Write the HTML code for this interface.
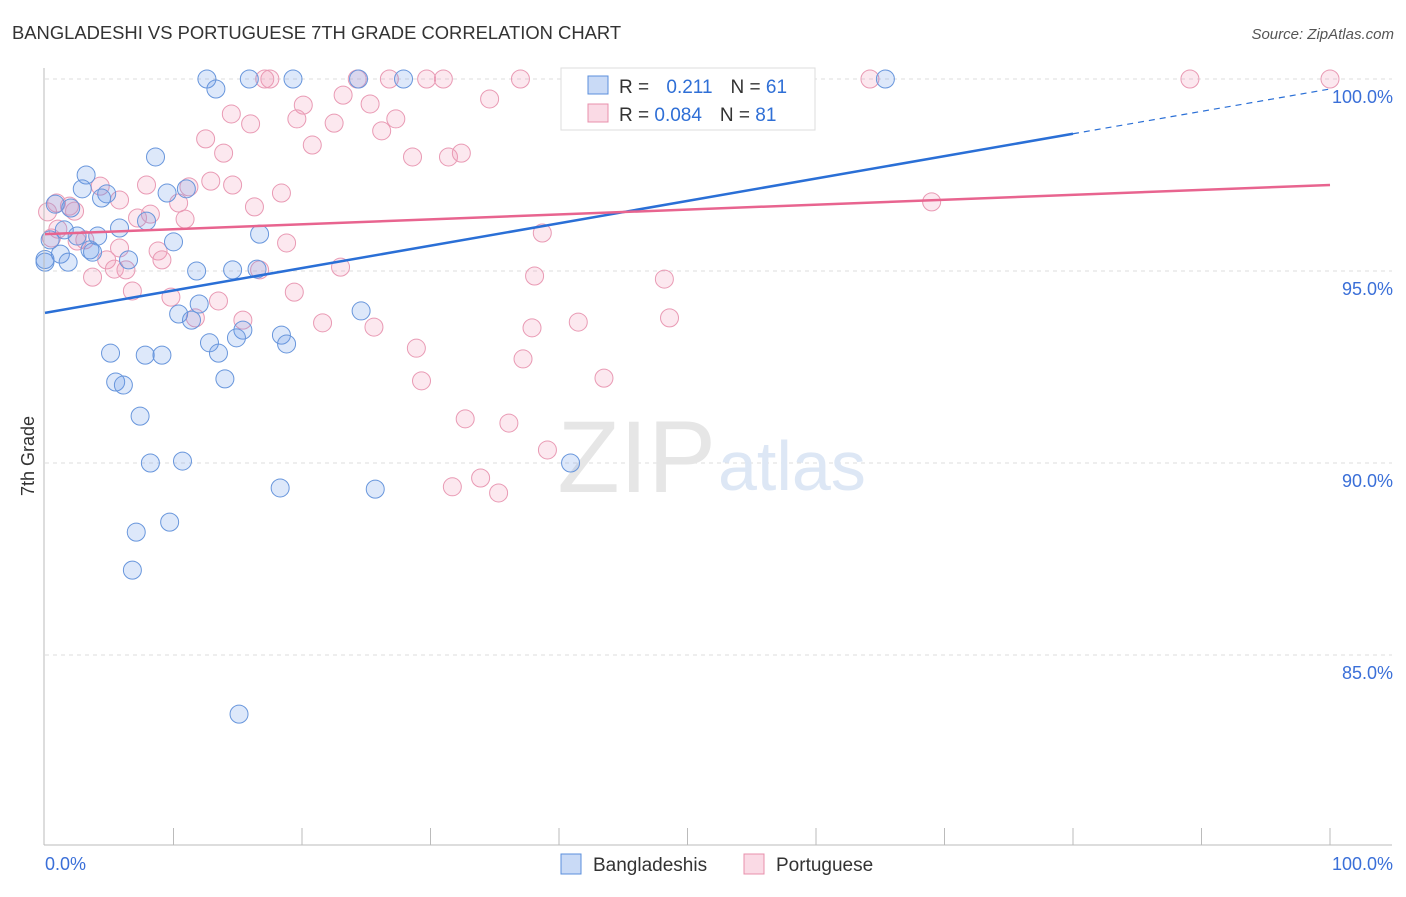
<!DOCTYPE html>
<html><head><meta charset="utf-8"><style>
body{margin:0;background:#fff;font-family:"Liberation Sans",sans-serif}
svg text{font-family:"Liberation Sans",sans-serif}
</style></head><body>
<svg id="c" width="1406" height="892">
<text x="12" y="39" font-size="18.4" fill="#333">BANGLADESHI VS PORTUGUESE 7TH GRADE CORRELATION CHART</text>
<text x="1394" y="39" font-size="15" fill="#555" font-style="italic" text-anchor="end">Source: ZipAtlas.com</text>
<text x="34" y="456" font-size="18" fill="#333" transform="rotate(-90 34 456)" text-anchor="middle">7th Grade</text>
<g id="grid"></g>
<text x="716" y="492" font-size="102" fill="#e6e6e6" text-anchor="end" font-family="Liberation Serif">ZIP</text>
<text x="718" y="490" font-size="70" fill="#dde7f5">atlas</text>
<g id="pts"></g>
<g id="trend"></g>
<line x1="44" y1="68" x2="44" y2="845" stroke="#bbb"/>
<line x1="44" y1="845" x2="1392" y2="845" stroke="#bbb"/>
<g id="xt"></g>
<text x="45" y="870" font-size="18" fill="#3a6fd8">0.0%</text>
<text x="1393" y="870" font-size="18" fill="#3a6fd8" text-anchor="end">100.0%</text>
<g>
<rect x="561" y="68" width="254" height="62" fill="#fff" stroke="#ddd"/>
<rect x="588" y="76" width="20" height="18" fill="rgba(100,150,230,0.35)" stroke="#5b8fdc"/>
<rect x="588" y="104" width="20" height="18" fill="rgba(240,150,180,0.35)" stroke="#e890ac"/>
<text x="619" y="93" font-size="19" fill="#333">R = <tspan fill="#2f6fd6" dx="12">0.211</tspan><tspan dx="18" fill="#333">N = </tspan><tspan fill="#2f6fd6">61</tspan></text>
<text x="619" y="121" font-size="19" fill="#333">R = <tspan fill="#2f6fd6">0.084</tspan><tspan dx="18" fill="#333">N = </tspan><tspan fill="#2f6fd6">81</tspan></text>
</g>
<g>
<rect x="561" y="854" width="20" height="20" fill="rgba(100,150,230,0.35)" stroke="#5b8fdc"/>
<text x="593" y="871" font-size="19" fill="#333">Bangladeshis</text>
<rect x="744" y="854" width="20" height="20" fill="rgba(240,150,180,0.35)" stroke="#e890ac"/>
<text x="776" y="871" font-size="19" fill="#333">Portuguese</text>
</g>
</svg>
<script>
const yTicks=[100,95,90,85];
const yTickLabels=["100.0%","95.0%","90.0%","85.0%"];
const xTicks=[10,20,30,40,50,60,70,80,90,100];
const blueX=[12.6,15.9,19.3,27.9,24.4,53.3,65.4,13.3,8.6,3.2,2.9,4.8,4.4,9.5,11.0,0.8,2.0,5.8,7.9,1.5,4.1,2.5,0.4,10.0,16.7,3.5,1.2,3.7,6.5,1.8,0.0,11.8,14.6,16.5,24.6,12.0,10.4,11.4,15.4,14.9,18.4,18.8,12.8,13.5,5.1,7.8,9.1,5.5,6.1,14.0,7.4,8.2,10.7,18.3,25.7,40.9,7.1,9.7,6.8,15.1,0.0];
const blueY=[100,100,100,100,100,100,100,99.74,97.97,97.5,97.14,97.01,96.9,97.03,97.14,96.74,96.64,96.12,96.3,96.07,95.91,95.91,95.81,95.76,95.96,95.55,95.44,95.49,95.29,95.23,95.23,95.0,95.03,95.05,93.96,94.14,93.88,93.72,93.46,93.26,93.33,93.1,93.13,92.86,92.86,92.81,92.81,92.11,92.03,92.19,91.22,90.0,90.05,89.35,89.32,90.0,88.2,88.46,87.21,83.46,95.3];
const pinkX=[17.5,17.1,24.3,26.8,29.7,31.0,37.0,64.2,89.1,100,20.1,34.6,23.2,25.3,14.5,19.6,27.3,26.2,22.5,16.0,12.5,20.8,13.9,28.6,31.4,32.4,4.3,7.9,12.9,14.6,11.2,18.4,16.3,10.4,0.9,1.9,69.0,8.2,7.2,10.9,1.0,2.5,38.7,18.8,8.8,5.8,9.1,4.8,6.3,16.7,5.4,3.7,23.0,38.1,48.2,6.8,19.4,9.8,13.5,48.6,15.4,21.6,25.6,37.9,41.5,11.7,28.9,37.2,29.3,43.5,32.7,36.1,39.1,33.9,31.7,35.3,0.5,3.1,0.2,5.8,2.3];
const pinkY=[100,100,100,100,100,100,100,100,100,100,99.32,99.48,99.58,99.35,99.09,98.96,98.96,98.65,98.85,98.83,98.44,98.28,98.07,97.97,97.97,98.07,97.21,97.24,97.34,97.24,97.19,97.03,96.67,96.77,96.77,96.69,96.8,96.48,96.38,96.35,96.09,95.78,95.99,95.73,95.52,95.6,95.29,95.29,95.03,95.03,95.05,94.84,95.1,94.87,94.79,94.48,94.45,94.32,94.22,93.78,93.72,93.65,93.54,93.52,93.67,93.78,92.99,92.71,92.14,92.21,91.15,91.04,90.34,89.61,89.38,89.22,95.86,95.81,96.54,96.85,96.56];
const blueTrend=[93.91,99.74];
const pinkTrend=[95.96,97.24];
const NS="http://www.w3.org/2000/svg";
const X=v=>45+v*12.85, Y=v=>79+(100-v)*38.4;
function mk(t,a,p){const e=document.createElementNS(NS,t);for(const k in a)e.setAttribute(k,a[k]);p.appendChild(e);return e;}
const grid=document.getElementById('grid');
yTicks.forEach((t,i)=>{
 const l=mk('line',{x1:45,x2:1392,y1:Y(t),y2:Y(t),stroke:'#ddd','stroke-dasharray':'4,4'},grid);
 
 
 const tx=mk('text',{x:1393,y:Y(t)+24,'font-size':18,fill:'#3a6fd8','text-anchor':'end'},grid);
 tx.textContent=yTickLabels[i];
 
 
});
const xt=document.getElementById('xt');
xTicks.forEach(t=>{
 const l=mk('line',{x1:X(t),x2:X(t),y1:828,y2:845,stroke:'#bbb'},xt);
 
 
});
const pts=document.getElementById('pts');
pinkX.forEach((x,i)=>{
 const c=mk('circle',{cx:X(x),cy:Y(pinkY[i]),r:9,fill:'rgba(240,150,180,0.22)',stroke:'#e99ab4','stroke-width':1},pts);
 
 
});
blueX.forEach((x,i)=>{
 const c=mk('circle',{cx:X(x),cy:Y(blueY[i]),r:9,fill:'rgba(100,150,230,0.22)',stroke:'#6896dc','stroke-width':1},pts);
 
 
});
const tr=document.getElementById('trend');
const bAt=v=>blueTrend[0]+(blueTrend[1]-blueTrend[0])*v/100;
let l1=mk('line',{x1:X(0),y1:Y(bAt(0)),x2:X(80),y2:Y(bAt(80)),stroke:'#2a6fd6','stroke-width':2.5},tr);


let l2=mk('line',{x1:X(80),y1:Y(bAt(80)),x2:X(100),y2:Y(bAt(100)),stroke:'#2a6fd6','stroke-width':1.2,'stroke-dasharray':'6,5'},tr);


let l3=mk('line',{x1:X(0),y1:Y(pinkTrend[0]),x2:X(100),y2:Y(pinkTrend[1]),stroke:'#e8648f','stroke-width':2.5},tr);


</script>
</body></html>
